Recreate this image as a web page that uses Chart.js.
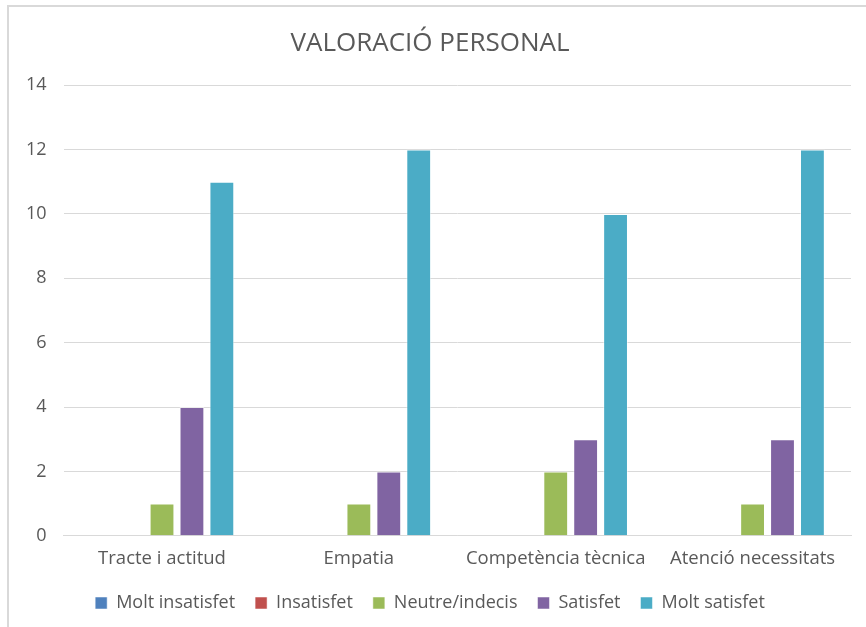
<!DOCTYPE html>
<html>
<head>
<meta charset="utf-8">
<script src="https://cdn.jsdelivr.net/npm/chart.js@4"></script>
<style>
  html, body { margin: 0; padding: 0; background: #fff; }
  #frame {
    position: absolute; left: 7px; top: 5px; width: 859px; height: 622px;
    border-left: 2px solid #d9d9d9; border-top: 2px solid #d9d9d9;
  }
  #chart-wrap { position: absolute; left: 0; top: 0; width: 859px; height: 622px; }
</style>
</head>
<body>
<div id="frame"><div id="chart-wrap"><canvas id="bar-chart"></canvas></div></div>
<script>
const categories = ['Tracte i actitud', 'Empatia', 'Competència tècnica', 'Atenció necessitats'];
const seriesNames = ['Molt insatisfet', 'Insatisfet', 'Neutre/indecis', 'Satisfet', 'Molt satisfet'];
const moltInsatisfet = [0, 0, 0, 0];
const insatisfet = [0, 0, 0, 0];
const neutre = [1, 1, 2, 1];
const satisfet = [4, 2, 3, 3];
const moltSatisfet = [11, 12, 10, 12];
const yTicks = [0, 2, 4, 6, 8, 10, 12, 14];

document.addEventListener('DOMContentLoaded', function () {
    const colors = ['#4F81BD', '#C0504D', '#9BBB59', '#8064A2', '#4BACC6'];
    const values = [moltInsatisfet, insatisfet, neutre, satisfet, moltSatisfet];
    const font = '"Open Sans", "Liberation Sans", sans-serif';

    const ctx = document.getElementById('bar-chart').getContext('2d');
    new Chart(ctx, {
        type: 'bar',
        data: {
            labels: categories,
            datasets: seriesNames.map((name, i) => ({
                label: name,
                data: values[i],
                backgroundColor: colors[i],
                borderColor: 'rgba(255,255,255,0.5)',
                borderWidth: 1,
                categoryPercentage: 0.76,
                barPercentage: 0.83
            }))
        },
        options: {
            responsive: true,
            maintainAspectRatio: false,
            animation: false,
            layout: { padding: { left: 0, right: 17, top: 8, bottom: 7 } },
            scales: {
                x: {
                    grid: { display: false },
                    border: { color: '#d9d9d9' },
                    ticks: { color: '#595959', font: { family: font, size: 18.5 }, padding: 4 }
                },
                y: {
                    min: 0,
                    max: 14,
                    afterBuildTicks: (axis) => { axis.ticks = yTicks.map(v => ({ value: v })); },
                    grid: { color: '#d9d9d9', drawTicks: false },
                    border: { display: false },
                    ticks: { color: '#595959', font: { family: font, size: 18 }, padding: 17 }
                }
            },
            plugins: {
                title: {
                    display: true,
                    text: 'VALORACIÓ PERSONAL',
                    color: '#595959',
                    font: { family: font, size: 26, weight: 'normal' },
                    padding: { top: 13, bottom: 26 }
                },
                legend: {
                    position: 'bottom',
                    labels: {
                        color: '#595959',
                        font: { family: font, size: 18 },
                        boxWidth: 12,
                        boxHeight: 12,
                        padding: 20
                    }
                },
                tooltip: { enabled: false }
            }
        }
    });
});
</script>
</body>
</html>
